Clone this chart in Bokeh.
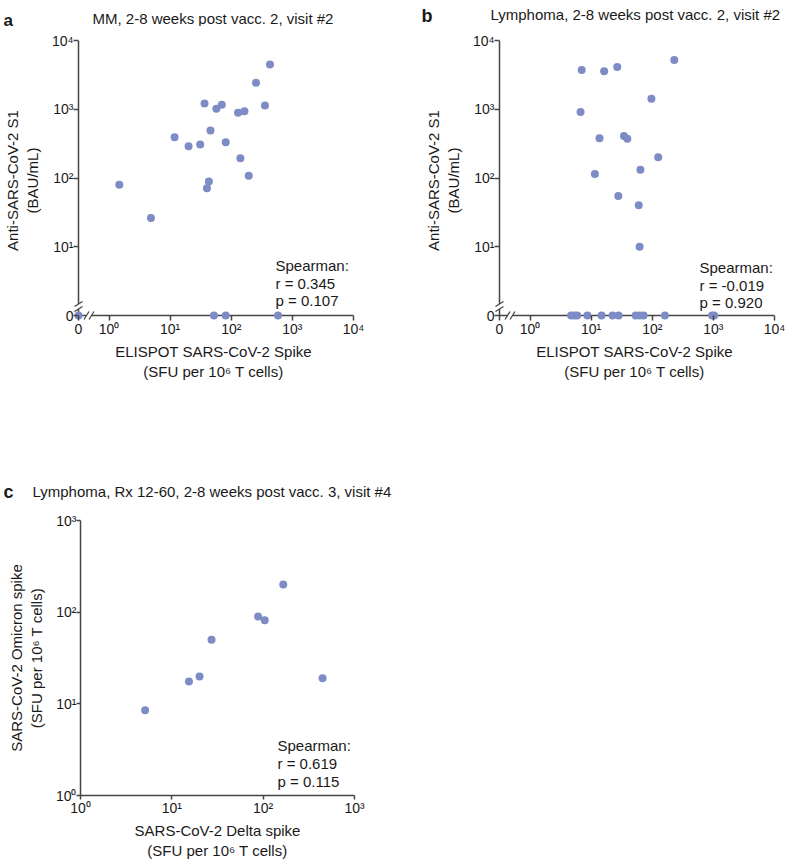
import math
from bokeh.plotting import figure
from bokeh.models import LinearAxis, FixedTicker, Label, Range1d, ColumnDataSource
from bokeh.layouts import column, row
from bokeh.embed import file_html
from bokeh.resources import INLINE

# ---------------- data ----------------
# Panel a: MM, ELISPOT spike (SFU per 1e6 T cells) vs anti-S1 (BAU/mL); 0 = below detection
a_elispot = [430, 254, 36.5, 70, 57, 356, 129, 164, 45.7, 11.8, 20, 31, 81, 141, 193, 43, 40, 1.47, 4.85,
             0, 52, 81, 581]
a_antibody = [4470, 2420, 1210, 1160, 1020, 1130, 893, 933, 489, 391, 289, 306, 330, 193, 108, 89, 71, 80, 26.2,
              0, 0, 0, 0]
a_stats = ["Spearman:", "r = 0.345", "p = 0.107"]

# Panel b: Lymphoma
b_elispot = [229, 7.0, 16.3, 26.7, 96.8, 6.7, 13.7, 34.4, 39, 125, 64, 11.5, 27.8, 60, 62,
             4.7, 5.3, 5.9, 8.7, 14.8, 22.4, 28.1, 53.5, 62, 72, 161, 953, 1028]
b_antibody = [5210, 3720, 3560, 4110, 1416, 914, 380, 407, 372, 200, 132, 114, 54.5, 40, 10,
              0, 0, 0, 0, 0, 0, 0, 0, 0, 0, 0, 0, 0]
b_stats = ["Spearman:", "r = -0.019", "p = 0.920"]

# Panel c: Lymphoma Rx 12-60, Delta vs Omicron spike
c_delta = [166, 88, 104, 27.2, 15.4, 20.1, 447, 5.1]
c_omicron = [200, 89.6, 81.6, 50, 17.5, 19.9, 19.0, 8.5]
c_stats = ["Spearman:", "r = 0.619", "p = 0.115"]

titles = ["MM, 2-8 weeks post vacc. 2, visit #2",
          "Lymphoma, 2-8 weeks post vacc. 2, visit #2",
          "Lymphoma, Rx 12-60, 2-8 weeks post vacc. 3, visit #4"]
letters = ["a", "b", "c"]
ab_xlabel = "ELISPOT SARS-CoV-2 Spike\n(SFU per 10\u2076 T cells)"
ab_ylabel = "Anti-SARS-CoV-2 S1\n(BAU/mL)"
c_xlabel = "SARS-CoV-2 Delta spike\n(SFU per 10\u2076 T cells)"
c_ylabel = "SARS-CoV-2 Omicron spike\n(SFU per 10\u2076 T cells)"

x_decades = [0, 1, 2, 3, 4]
y_decades = [1, 2, 3, 4]
c_decades = [0, 1, 2, 3]

# ---------------- style ----------------
FONT = "Liberation Sans"
TXT = "#1a1a1a"
AX = "#454545"
DOT = "#7d8cc4"
SUP = str.maketrans("0123456789", "\u2070\u00b9\u00b2\u00b3\u2074\u2075\u2076\u2077\u2078\u2079")


def pow10(k):
    return "10" + str(k).translate(SUP)


def style_axis(ax, tick_in, tick_out, label_standoff, line=True):
    ax.axis_line_color = AX if line else None
    ax.axis_line_width = 1.5
    ax.major_tick_line_color = AX
    ax.major_tick_line_width = 1.5
    ax.major_tick_in = tick_in
    ax.major_tick_out = tick_out
    ax.minor_tick_line_color = None
    ax.major_label_text_font = FONT
    ax.major_label_text_font_size = "14px"
    ax.major_label_text_color = TXT
    ax.major_label_standoff = 0
    ax.axis_label_text_font = FONT
    ax.axis_label_text_font_size = "15px"
    ax.axis_label_text_font_style = "normal"
    ax.axis_label_text_color = TXT
    ax.axis_label_standoff = label_standoff


def frame_text(p, fl, fb, px, py, text, size=15):
    # fl, fb: page position of the frame's left / bottom edge
    p.add_layout(Label(x=px - fl, y=fb - py, x_units="screen", y_units="screen", text=text,
                       text_font=FONT, text_font_size=f"{size}px", text_color=TXT,
                       text_align="left", text_baseline="alphabetic"))


def header(width, height, items):
    h = figure(frame_width=width, frame_height=height, min_border=0, frame_align=False,
               x_range=Range1d(0, 1), y_range=Range1d(0, 1),
               x_axis_type=None, y_axis_type=None, toolbar_location=None, title=None,
               output_backend="svg", outline_line_color=None,
               background_fill_color="white", border_fill_color="white")
    for cx, base, text, size, bold in items:
        h.add_layout(Label(x=cx, y=height - base, x_units="screen", y_units="screen", text=text,
                           text_font=FONT, text_font_size=f"{size}px", text_color=TXT,
                           text_font_style="bold" if bold else "normal",
                           text_align="left", text_baseline="alphabetic"))
    return h


# geometry of the broken-axis panels
PAD = 5
FW, FH = 275 + PAD, 275 + PAD
ZERO_X = -0.5
ZERO_Y = 0.0
KX = 275 / (4 - ZERO_X)   # px per decade (x)
KY = 275 / (4 - ZERO_Y)   # px per decade (y)
HEAD_H = 26
ROW_TOP = HEAD_H
ROW_H = 444
C_HEAD_H = 30
C_TOP = ROW_TOP + ROW_H + C_HEAD_H


def xpos(v):
    return math.log10(v) if v > 0 else ZERO_X


def ypos(v):
    return math.log10(v) if v > 0 else ZERO_Y


def broken_panel(xv, yv, bl, br, page_left, stats, stats_x, stats_y):
    bt = 14
    bb = ROW_H - bt - FH
    p = figure(frame_width=FW, frame_height=FH, min_border=0,
               min_border_left=bl, min_border_right=br, min_border_top=bt, min_border_bottom=bb,
               x_range=Range1d(ZERO_X - PAD / KX, 4), y_range=Range1d(ZERO_Y - PAD / KY, 4),
               x_axis_type=None, y_axis_type=None, toolbar_location=None, title=None,
               output_backend="svg", outline_line_color=None,
               background_fill_color="white", border_fill_color="white")
    xa = LinearAxis(ticker=FixedTicker(ticks=[ZERO_X] + x_decades),
                    major_label_overrides={**{ZERO_X: "0"}, **{k: pow10(k) for k in x_decades}},
                    axis_label=ab_xlabel)
    ya = LinearAxis(ticker=FixedTicker(ticks=[ZERO_Y] + y_decades),
                    major_label_overrides={**{ZERO_Y: "0"}, **{k: pow10(k) for k in y_decades}},
                    axis_label=ab_ylabel)
    style_axis(xa, PAD, 0, 3, line=False)
    style_axis(ya, PAD, 0, 8, line=False)
    p.add_layout(xa, "below")
    p.add_layout(ya, "left")

    # axis lines running through the zero position
    axes_src = ColumnDataSource(dict(x0=[ZERO_X, ZERO_X], y0=[ZERO_Y, ZERO_Y], x1=[4, ZERO_X], y1=[ZERO_Y, 4]))
    p.segment("x0", "y0", "x1", "y1", source=axes_src, line_color=AX, line_width=1.5)

    # axis break marks
    gap = ColumnDataSource(dict(
        x0=[ZERO_X, ZERO_X + 8 / KX], y0=[6.5 / KY, ZERO_Y],
        x1=[ZERO_X, ZERO_X + 13 / KX], y1=[11.5 / KY, ZERO_Y]))
    p.segment("x0", "y0", "x1", "y1", source=gap, line_color="white", line_width=3.5)
    diag = ColumnDataSource(dict(
        x0=[ZERO_X - 4 / KX, ZERO_X - 4 / KX, ZERO_X + 5.5 / KX, ZERO_X + 10.5 / KX],
        y0=[4 / KY, 9 / KY, -4 / KY, -4 / KY],
        x1=[ZERO_X + 4 / KX, ZERO_X + 4 / KX, ZERO_X + 10.5 / KX, ZERO_X + 15.5 / KX],
        y1=[9 / KY, 14 / KY, 4 / KY, 4 / KY]))
    p.segment("x0", "y0", "x1", "y1", source=diag, line_color=AX, line_width=1.3)

    src = ColumnDataSource(dict(x=[xpos(v) for v in xv], y=[ypos(v) for v in yv]))
    p.scatter("x", "y", source=src, size=8, fill_color=DOT, line_color=None)

    fl = page_left + bl
    fb = ROW_TOP + bt + FH
    for i, s in enumerate(stats):
        frame_text(p, fl, fb, stats_x, stats_y + 17.5 * i, s)
    return p


PA_W = 420
ha = header(PA_W, HEAD_H, [(3, 20, letters[0], 17, True), (92, 18, titles[0], 15, False)])
hb = header(365, HEAD_H, [(1, 15, letters[1], 18, True), (70, 14, titles[1], 15, False)])
pa = broken_panel(a_elispot, a_antibody, 73, PA_W - 73 - FW, 0, a_stats, stats_x=275, stats_y=265)
pb = broken_panel(b_elispot, b_antibody, 74, 11, PA_W, b_stats, stats_x=699, stats_y=267)

# ---------------- panel c (log-log) ----------------
hc = header(400, C_HEAD_H, [(3, 21, letters[2], 18, True), (32, 21, titles[2], 15, False)])
c_bt, c_left = 20, 80
pc = figure(frame_width=274, frame_height=275, min_border=0,
            min_border_left=c_left, min_border_right=46, min_border_top=c_bt, min_border_bottom=62,
            x_axis_type="log", y_axis_type="log",
            x_range=Range1d(1, 1000), y_range=Range1d(1, 1000),
            toolbar_location=None, title=None, output_backend="svg", outline_line_color=None,
            background_fill_color="white", border_fill_color="white")
pc.grid.visible = False
pc.xaxis.axis_label = c_xlabel
pc.yaxis.axis_label = c_ylabel
for ax, st in ((pc.xaxis[0], 3), (pc.yaxis[0], 8)):
    ax.ticker = FixedTicker(ticks=[10 ** k for k in c_decades])
    ax.major_label_overrides = {10 ** k: pow10(k) for k in c_decades}
    style_axis(ax, 0, 4, st)
pc.scatter(c_delta, c_omicron, size=8, fill_color=DOT, line_color=None)

cfl = c_left
cfb = C_TOP + c_bt + 275
for i, s in enumerate(c_stats):
    frame_text(pc, cfl, cfb, 277, 745 + 18 * i, s)

layout = column(row(ha, hb), row(pa, pb), hc, pc)
open("out.html", "w").write(file_html(layout, INLINE))
